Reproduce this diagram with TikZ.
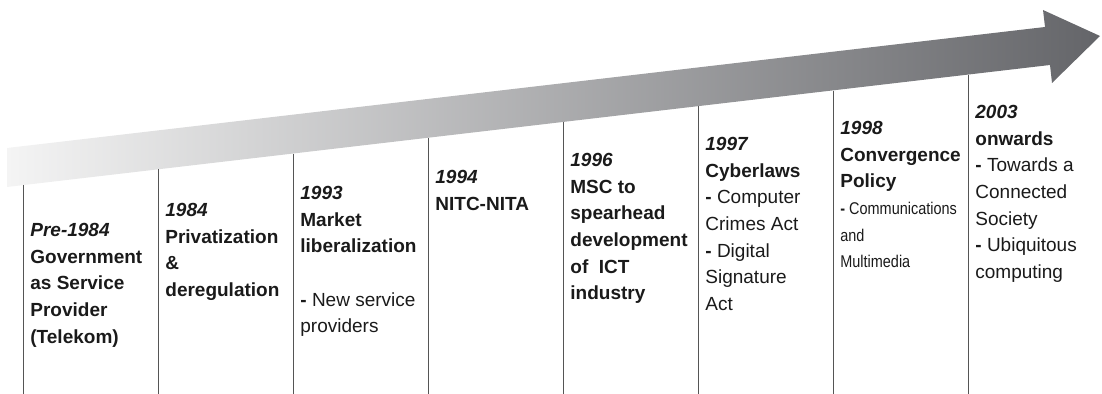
\documentclass[tikz,border=0pt]{standalone}
\usepackage{fontspec}
\setmainfont{Liberation Sans}
\usepackage{graphicx}
\usepackage{xcolor}
\usepackage{tikz}
\usetikzlibrary{calc}
\definecolor{rule}{HTML}{555555}
\definecolor{ink}{HTML}{1A1A1A}
\definecolor{arrowL}{HTML}{F4F4F4}
\definecolor{arrowM}{HTML}{A4A6A9}
\definecolor{arrowR}{HTML}{646569}
\tikzset{
  divider/.style={draw=rule, line width=0.5pt},
  band/.style={left color=arrowL, middle color=arrowM, right color=arrowR},
  entry/.style={anchor=north west, inner sep=0pt, align=left, text=ink,
    font=\fontsize{9.5}{13.33}\selectfont}
}
\newcommand{\yr}[1]{\textbf{\textit{#1}}}
\newcommand{\hy}{\textbf{-}}
\newcommand{\narrow}[1]{\scalebox{0.85}[1]{\fontsize{8.5}{13.33}\selectfont #1}}

\begin{document}
\begin{tikzpicture}[x=0.5pt,y=-0.5pt]
  \useasboundingbox (0,0) rectangle (1102,394);

  % Time arrow
  \coordinate (tl) at (7,148);
  \coordinate (bl) at (7,187);
  \coordinate (st) at (1045,27);
  \coordinate (ht) at (1043,10);
  \coordinate (tip) at (1100,36);
  \coordinate (hb) at (1052,83);
  \coordinate (sb) at (1050,65);
  \shade[band] (tl) -- (st) -- (ht) -- (tip) -- (hb) -- (sb) -- (bl) -- cycle;

  % Column dividers
  \foreach \x in {23,158,...,968}
    \draw[divider] (\x,{185-0.1165*(\x-23)}) -- (\x,394);

  \node[entry] (pre84) at (30,223) {\yr{Pre-1984}\\ \textbf{Government}\\
    \textbf{as Service}\\ \textbf{Provider}\\ \textbf{(Telekom)}};
  \node[entry] (y84) at (165,203) {\yr{1984}\\ \textbf{Privatization}\\
    \textbf{\&}\\ \textbf{deregulation}};
  \node[entry] (y93) at (300,186) {\yr{1993}\\ \textbf{Market}\\
    \textbf{liberalization}\\[13.33pt] \hy{} New service\\ providers};
  \node[entry] (y94) at (435,170) {\yr{1994}\\ \textbf{NITC-NITA}};
  \node[entry] (y96) at (570,153) {\yr{1996}\\ \textbf{MSC to}\\
    \textbf{spearhead}\\ \textbf{development}\\ \textbf{of\ \ ICT}\\ \textbf{industry}};
  \node[entry] (y97) at (705,137) {\yr{1997}\\ \textbf{Cyberlaws}\\
    \hy{} Computer\\ Crimes Act\\ \hy{} Digital\\ Signature\\ Act};
  \node[entry] (y98) at (840,121) {\yr{1998}\\ \textbf{Convergence}\\
    \textbf{Policy}\\ \narrow{\hy{} Communications}\\ \narrow{and}\\ \narrow{Multimedia}};
  \node[entry] (y03) at (975,105) {\yr{2003}\\ \textbf{onwards}\\
    \hy{} Towards a\\ Connected\\ Society\\ \hy{} Ubiquitous\\ computing};
\end{tikzpicture}
\end{document}
